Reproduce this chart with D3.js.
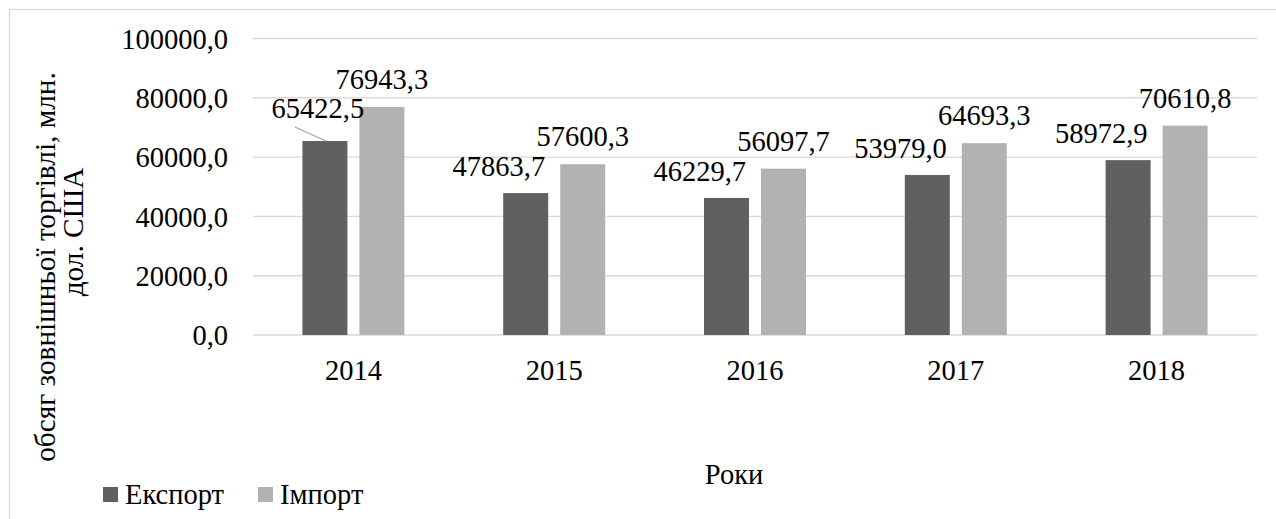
<!DOCTYPE html>
<html>
<head>
<meta charset="utf-8">
<script src="https://cdn.jsdelivr.net/npm/d3@7"></script>
<style>
  html, body { margin: 0; padding: 0; background: #fff; }
  svg { display: block; }
  svg text { font-family: 'Liberation Serif', Tinos, 'Times New Roman', serif; fill: #000; }
</style>
</head>
<body>
<svg id="chart" width="1276" height="519"></svg>
<script>
// ---- data ----
const years = ["2014", "2015", "2016", "2017", "2018"];
const exportValues = [65422.5, 47863.7, 46229.7, 53979.0, 58972.9];
const importValues = [76943.3, 57600.3, 56097.7, 64693.3, 70610.8];
const seriesNames = ["Експорт", "Імпорт"];
const yTicks = [0, 20000, 40000, 60000, 80000, 100000];
const yTitleLines = ["обсяг зовнішньої торгівлі, млн.", "дол. США"];
const xTitle = "Роки";

// ---- layout ----
const plot = { left: 253, right: 1257, top: 38.5, bottom: 335 };
const colors = ["#606060", "#b2b2b2"];
const fontSize = 28.5;
const fmt = v => d3.format(".1f")(v).replace(".", ",");

const svg = d3.select("#chart");

// chart border (left & top visible)
svg.append("rect")
  .attr("x", 9.5).attr("y", 9.5)
  .attr("width", 1400).attr("height", 700)
  .attr("fill", "none").attr("stroke", "#d9d9d9").attr("stroke-width", 1.2);

const x0 = d3.scaleBand().domain(years).range([plot.left, plot.right]).padding(0);
const y = d3.scaleLinear().domain([0, 100000]).range([plot.bottom, plot.top]);

const barW = 45, barGap = 12;
const barX = (i, s) => x0(years[i]) + x0.bandwidth() / 2 + (s === 0 ? -barGap / 2 - barW : barGap / 2);

// gridlines
svg.append("g").selectAll("line").data(yTicks).join("line")
  .attr("x1", plot.left).attr("x2", plot.right)
  .attr("y1", d => y(d)).attr("y2", d => y(d))
  .attr("stroke", "#d9d9d9").attr("stroke-width", 1.4);

// y axis labels
const yAxis = d3.axisLeft(y).tickValues(yTicks).tickFormat(fmt).tickSize(0).tickPadding(0);
const gy = svg.append("g").attr("transform", `translate(${plot.left - 25},0)`).call(yAxis)
  .attr("font-family", null).attr("font-size", null);
gy.select(".domain").remove();
gy.selectAll("text")
  .style("font-size", fontSize + "px").attr("fill", "#000").attr("dy", "0.34em");

// x axis labels
const xAxis = d3.axisBottom(x0).tickSize(0).tickPadding(0);
const gx = svg.append("g").attr("transform", `translate(0,${plot.bottom})`).call(xAxis)
  .attr("font-family", null).attr("font-size", null);
gx.select(".domain").remove();
gx.selectAll("text")
  .style("font-size", fontSize + "px").attr("fill", "#000")
  .attr("y", 45).attr("dy", 0);

// bars
const series = [exportValues, importValues];
series.forEach((vals, s) => {
  svg.append("g").selectAll("rect").data(vals).join("rect")
    .attr("x", (d, i) => barX(i, s))
    .attr("y", d => y(d))
    .attr("width", barW)
    .attr("height", d => y(0) - y(d))
    .attr("fill", colors[s]);
});

// data labels
const lblG = svg.append("g").style("font-size", fontSize + "px");
importValues.forEach((v, i) => {
  lblG.append("text")
    .attr("x", barX(i, 1) + barW / 2)
    .attr("y", y(v) - 18)
    .attr("text-anchor", "middle")
    .text(fmt(v));
});
exportValues.forEach((v, i) => {
  if (i === 0) {
    const bx = barX(i, 0) + barW / 2, by = y(v);
    lblG.append("text")
      .attr("x", bx - 7).attr("y", by - 23)
      .attr("text-anchor", "middle")
      .text(fmt(v));
    svg.append("line")
      .attr("x1", bx + 1).attr("y1", by)
      .attr("x2", bx - 30).attr("y2", by - 14)
      .attr("stroke", "#a6a6a6").attr("stroke-width", 1.3);
  } else {
    lblG.append("text")
      .attr("x", barX(i, 0) + barW - 3)
      .attr("y", y(v) - 17)
      .attr("text-anchor", "end")
      .text(fmt(v));
  }
});

// y axis title
const yt = svg.append("g").style("font-size", "29.3px");
yt.append("text")
  .attr("transform", "translate(55,267) rotate(-90)")
  .attr("text-anchor", "middle")
  .text(yTitleLines[0]);
yt.append("text")
  .attr("transform", "translate(83,232) rotate(-90)")
  .attr("text-anchor", "middle")
  .text(yTitleLines[1]);

// x axis title
svg.append("text")
  .attr("x", 734).attr("y", 484)
  .attr("text-anchor", "middle")
  .style("font-size", fontSize + "px")
  .text(xTitle);

// legend
const legendPos = [103, 258];
const leg = svg.append("g");
seriesNames.forEach((name, s) => {
  leg.append("rect")
    .attr("x", legendPos[s]).attr("y", 487)
    .attr("width", 15).attr("height", 15)
    .attr("fill", colors[s]);
  leg.append("text")
    .attr("x", legendPos[s] + 22).attr("y", 504)
    .style("font-size", fontSize + "px")
    .text(name);
});
</script>
</body>
</html>
